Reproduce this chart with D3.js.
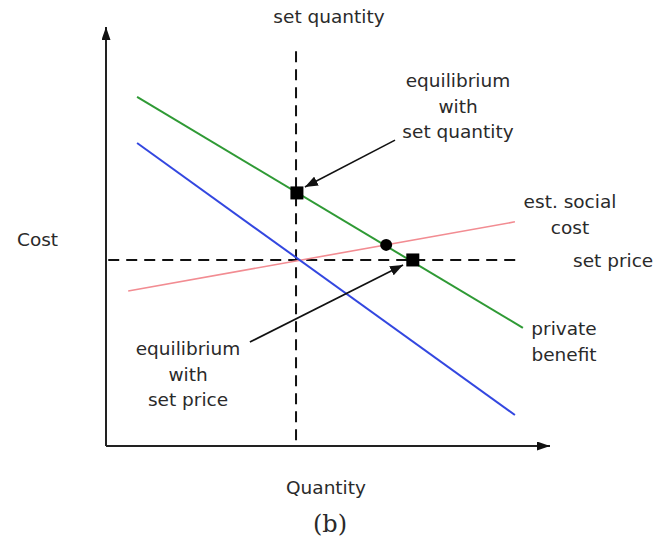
<!DOCTYPE html>
<html>
<head>
<meta charset="utf-8">
<script src="https://cdn.jsdelivr.net/npm/d3@7"></script>
<style>
  body { margin: 0; background: #fff; }
  text { font-family: "DejaVu Sans", sans-serif; fill: #2a2a2a; }
</style>
</head>
<body>
<svg id="chart"></svg>
<script>
const W = 664, H = 550;

// curves, in axis units (0..10 on both axes)
const privateBenefit = [[0.70, 8.33], [9.39, 2.82]];
const lowerBenefit = [[0.70, 7.23], [9.21, 0.74]];
const socialCost = [[0.50, 3.70], [9.21, 5.35]];
const setQuantity = 4.28;
const setQuantityRange = [0.14, 9.50];
const setPrice = 4.44;
const setPriceRange = [0.05, 9.37];
const squarePoints = [[4.30, 6.04], [6.91, 4.44]];
const circlePoints = [[6.31, 4.80]];
// annotation arrows: [from, to]
const arrows = [
  [[6.51, 7.30], [4.48, 6.18]],
  [[3.24, 2.48], [6.69, 4.32]]
];

var svg = d3.select("#chart")
    .attr("width", W)
    .attr("height", H);

var x = d3.scaleLinear().domain([0, 10]).range([106, 550]);
var y = d3.scaleLinear().domain([0, 10]).range([446, 27]);

var defs = svg.append("defs");
function marker(id, len, half) {
    defs.append("marker")
        .attr("id", id)
        .attr("viewBox", "0 0 " + len + " " + (half * 2))
        .attr("refX", len).attr("refY", half)
        .attr("markerWidth", len).attr("markerHeight", half * 2)
        .attr("markerUnits", "userSpaceOnUse")
        .attr("orient", "auto")
        .append("path")
        .attr("d", "M0,0L" + len + "," + half + "L0," + (half * 2) + "Z")
        .attr("fill", "#111");
}
marker("axisHead", 13, 4.5);
marker("noteHead", 13, 5);

var line = d3.line()
    .x(function (d) { return x(d[0]); })
    .y(function (d) { return y(d[1]); });

/* axes */
svg.append("path")
    .attr("d", line([[0, 0], [0, 10]]))
    .attr("stroke", "#222").attr("stroke-width", 2)
    .attr("marker-end", "url(#axisHead)");
svg.append("path")
    .attr("d", line([[0, 0], [10, 0]]))
    .attr("stroke", "#222").attr("stroke-width", 2)
    .attr("marker-end", "url(#axisHead)");

/* dashed set quantity / set price */
svg.append("path")
    .attr("d", line([[setQuantity, setQuantityRange[0]], [setQuantity, setQuantityRange[1]]]))
    .attr("stroke", "#111").attr("stroke-width", 2)
    .attr("stroke-dasharray", "11,7");
svg.append("path")
    .attr("d", line([[setPriceRange[0], setPrice], [setPriceRange[1], setPrice]]))
    .attr("stroke", "#111").attr("stroke-width", 2)
    .attr("stroke-dasharray", "11,7");

/* curves */
var curves = [
    { pts: socialCost, color: "#f28c92", w: 1.6 },
    { pts: lowerBenefit, color: "#3347e0", w: 2 },
    { pts: privateBenefit, color: "#2f9a35", w: 2 }
];
svg.selectAll("path.curve")
    .data(curves)
    .enter().append("path")
    .attr("class", "curve")
    .attr("d", function (d) { return line(d.pts); })
    .attr("fill", "none")
    .attr("stroke", function (d) { return d.color; })
    .attr("stroke-width", function (d) { return d.w; });

/* equilibrium markers */
svg.selectAll("rect.eq")
    .data(squarePoints)
    .enter().append("rect")
    .attr("class", "eq")
    .attr("x", function (d) { return x(d[0]) - 6.5; })
    .attr("y", function (d) { return y(d[1]) - 6.5; })
    .attr("width", 13).attr("height", 13)
    .attr("fill", "#000");
svg.selectAll("circle.eq")
    .data(circlePoints)
    .enter().append("circle")
    .attr("class", "eq")
    .attr("cx", function (d) { return x(d[0]); })
    .attr("cy", function (d) { return y(d[1]); })
    .attr("r", 6)
    .attr("fill", "#000");

/* annotation arrows */
svg.selectAll("path.note")
    .data(arrows)
    .enter().append("path")
    .attr("class", "note")
    .attr("d", function (d) { return line(d); })
    .attr("stroke", "#111").attr("stroke-width", 1.6)
    .attr("marker-end", "url(#noteHead)");

/* labels */
function label(lines, cx, y0, anchor) {
    var t = svg.append("text")
        .attr("font-size", 18.5)
        .attr("text-anchor", anchor || "middle");
    lines.forEach(function (s, i) {
        t.append("tspan").attr("x", cx).attr("y", y0 + i * 25.5).text(s);
    });
}
label(["set quantity"], 329, 23);
label(["Cost"], 17, 246, "start");
label(["Quantity"], 326, 494);
label(["equilibrium", "with", "set quantity"], 458, 87);
label(["equilibrium", "with", "set price"], 188, 355);
label(["est. social", "cost"], 570, 208);
label(["set price"], 573, 267, "start");
label(["private", "benefit"], 564, 335);

svg.append("text")
    .attr("x", 330).attr("y", 532)
    .attr("text-anchor", "middle")
    .attr("font-size", 24)
    .style("font-family", "'DejaVu Serif', serif")
    .text("(b)");
</script>
</body>
</html>
